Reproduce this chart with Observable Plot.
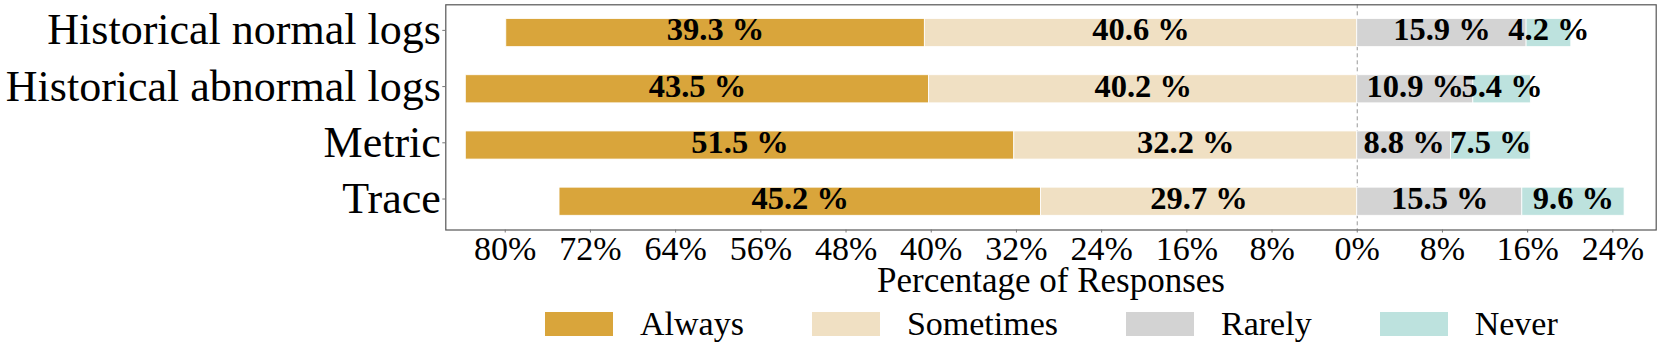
<!DOCTYPE html>
<html>
<head>
<meta charset="utf-8">
<script src="https://cdn.jsdelivr.net/npm/d3@7"></script>
<script src="https://cdn.jsdelivr.net/npm/@observablehq/plot@0.6"></script>
<style>
  html, body { margin: 0; padding: 0; background: #fff; }
  body { width: 1660px; font-family: "Liberation Serif", "Times New Roman", serif; }
  #legend { display: flex; align-items: center; height: 48px; padding-left: 545px; }
  .item { display: flex; align-items: center; margin-right: 68px; }
  .sw { width: 68px; height: 24px; margin-right: 27px; }
  .lab { font-size: 34px; line-height: 1; color: #000; }
</style>
</head>
<body>
<div id="chart"></div>
<div id="legend"></div>
<script>
const categories = ["Historical normal logs", "Historical abnormal logs", "Metric", "Trace"];
const responses = ["Always", "Sometimes", "Rarely", "Never"];
const always = [39.3, 43.5, 51.5, 45.2];
const sometimes = [40.6, 40.2, 32.2, 29.7];
const rarely = [15.9, 10.9, 8.8, 15.5];
const never = [4.2, 5.4, 7.5, 9.6];
const colors = ["#D9A53B", "#F0E0C3", "#D3D3D3", "#BDE2DE"];
const xTicks = [-80, -72, -64, -56, -48, -40, -32, -24, -16, -8, 0, 8, 16, 24];
const xTitle = "Percentage of Responses";

const segs = [];
categories.forEach((c, i) => {
  segs.push({cat: c, resp: "Always", v: always[i], x1: -(always[i] + sometimes[i]), x2: -sometimes[i]});
  segs.push({cat: c, resp: "Sometimes", v: sometimes[i], x1: -sometimes[i], x2: 0});
  segs.push({cat: c, resp: "Rarely", v: rarely[i], x1: 0, x2: rarely[i]});
  segs.push({cat: c, resp: "Never", v: never[i], x1: rarely[i], x2: rarely[i] + never[i]});
});

const chart = Plot.plot({
  width: 1660,
  height: 300,
  marginLeft: 445.3,
  marginRight: 4.3,
  marginTop: 4.3,
  marginBottom: 70.5,
  style: {fontFamily: '"Liberation Serif", "Times New Roman", serif', background: "#fff", color: "#000", overflow: "visible"},
  x: {domain: [-85.58, 28.07]},
  y: {domain: categories, paddingInner: 0.5, paddingOuter: 0.253, round: false},
  color: {domain: responses, range: colors},
  marks: [
    Plot.ruleX([0], {stroke: "#999", strokeWidth: 1, strokeDasharray: "4,3"}),
    Plot.barX(segs, {x1: "x1", x2: "x2", y: "cat", fill: "resp", stroke: "#fff", strokeWidth: 0.8}),
    Plot.text(segs, {x: d => (d.x1 + d.x2) / 2, y: "cat", text: d => d.v.toFixed(1) + " %", fontSize: 32.5, fontWeight: "bold", fill: "#000", dy: -3}),
    Plot.frame({stroke: "#555", strokeWidth: 1.2}),
    Plot.axisX({ticks: xTicks, tickFormat: d => Math.abs(d) + "%", tickSize: 3, tickPadding: 3, fontSize: 34, stroke: "#777", label: null}),
    Plot.axisY({tickSize: 3, tickPadding: 2, fontSize: 44, stroke: "#777", label: null, dy: -2.7}),
    Plot.text([xTitle], {frameAnchor: "bottom", lineAnchor: "bottom", dy: 62, fontSize: 35, fill: "#000"})
  ]
});
document.getElementById("chart").appendChild(chart);

const legend = document.getElementById("legend");
responses.forEach((r, i) => {
  const item = document.createElement("div");
  item.className = "item";
  const sw = document.createElement("div");
  sw.className = "sw";
  sw.style.background = colors[i];
  const lab = document.createElement("span");
  lab.className = "lab";
  lab.textContent = r;
  item.appendChild(sw);
  item.appendChild(lab);
  legend.appendChild(item);
});
</script>
</body>
</html>
